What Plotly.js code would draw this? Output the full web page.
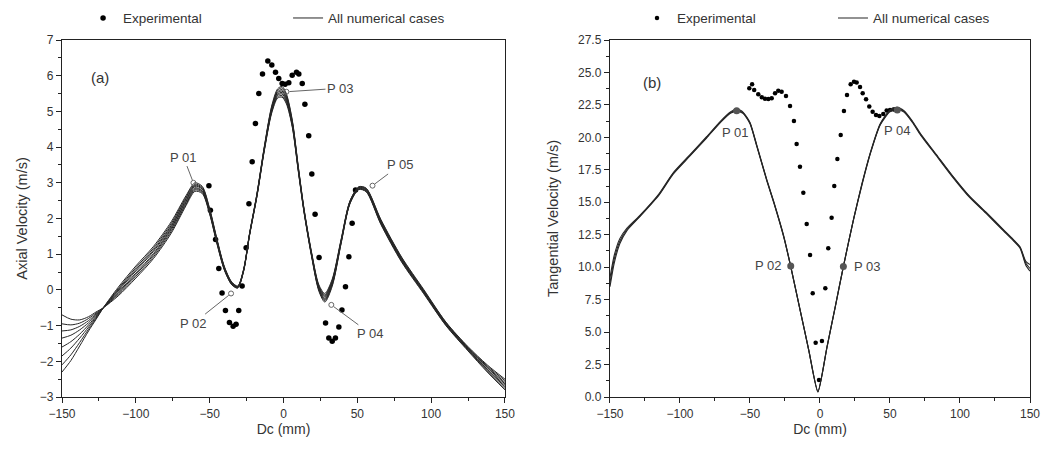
<!DOCTYPE html>
<html>
<head>
<meta charset="utf-8">
<script src="https://cdn.plot.ly/plotly-3.0.1.min.js"></script>
<style>html,body{margin:0;padding:0;background:#fff;}#chart{width:1042px;height:455px;}</style>
</head>
<body>
<div id="chart"></div>
<script>
// ---------- Panel (a): axial velocity ----------
const expA_x = [-50.5,-49.5,-46,-43.8,-41.6,-39.3,-36.6,-34.1,-32.1,-30.3,-28,-25.3,-23.4,-21.2,-19,-16.7,-14.2,-10.6,-7.9,-5.4,-3.2,-0.9,1.1,3.6,5.9,8.8,10.4,12.7,14.5,17.1,19.2,21.4,24.1,28.5,30.7,33,35.2,37.5,39.6,42,44.3,46.5,48.8];
const expA_y = [2.92,2.23,1.41,0.6,-0.09,-0.58,-0.91,-1.02,-0.96,-0.58,0.11,1.18,2.41,3.59,4.66,5.5,6.05,6.41,6.30,6.10,5.92,5.78,5.76,5.8,6.01,6.10,6.05,5.78,5.2,4.32,3.25,2.12,0.91,-0.93,-1.35,-1.44,-1.35,-1.04,-0.56,0.09,0.93,1.87,2.8];

const numA_x = [-150,-144,-138,-132,-127,-122,-112,-100,-88,-76,-66,-60,-55,-50,-45,-40,-35,-31,-27,-23,-18,-13,-8,-4,-1,2,6,10,14,19,24,28,33,39,45,51,56,66,80,95,110,125,138,150];
const numA_case1 = [-0.70,-0.82,-0.84,-0.75,-0.62,-0.50,-0.17,0.33,0.88,1.59,2.36,2.76,2.70,2.12,1.28,0.55,0.14,0.05,0.52,1.52,2.61,3.89,4.95,5.37,5.40,5.21,4.55,3.33,2.15,0.94,-0.04,-0.34,0.10,1.29,2.41,2.81,2.75,1.83,0.78,-0.11,-1.00,-1.71,-2.30,-2.80];
const numA_case2 = [-0.95,-0.98,-0.93,-0.80,-0.65,-0.50,-0.13,0.38,0.93,1.64,2.40,2.80,2.73,2.14,1.30,0.56,0.15,0.06,0.53,1.53,2.62,3.91,4.98,5.41,5.44,5.25,4.58,3.35,2.16,0.96,-0.01,-0.30,0.13,1.31,2.42,2.82,2.76,1.85,0.80,-0.09,-0.99,-1.69,-2.27,-2.76];
const numA_case3 = [-1.15,-1.12,-1.02,-0.86,-0.68,-0.50,-0.10,0.43,0.98,1.69,2.44,2.83,2.76,2.17,1.32,0.58,0.16,0.07,0.54,1.54,2.63,3.93,5.01,5.45,5.49,5.29,4.61,3.37,2.18,0.98,0.01,-0.27,0.16,1.33,2.43,2.83,2.78,1.87,0.82,-0.07,-0.97,-1.67,-2.24,-2.71];
const numA_case4 = [-1.35,-1.27,-1.12,-0.92,-0.71,-0.50,-0.07,0.47,1.02,1.73,2.48,2.86,2.78,2.19,1.34,0.59,0.17,0.08,0.55,1.55,2.64,3.94,5.03,5.48,5.53,5.33,4.63,3.39,2.19,0.99,0.04,-0.24,0.18,1.34,2.44,2.84,2.79,1.89,0.84,-0.06,-0.96,-1.66,-2.22,-2.67];
const numA_case5 = [-1.60,-1.45,-1.24,-0.98,-0.74,-0.50,-0.03,0.53,1.08,1.77,2.52,2.90,2.82,2.21,1.36,0.61,0.19,0.08,0.55,1.55,2.66,3.96,5.07,5.52,5.57,5.37,4.67,3.41,2.21,1.01,0.06,-0.20,0.22,1.36,2.46,2.86,2.81,1.91,0.86,-0.04,-0.94,-1.64,-2.18,-2.63];
const numA_case6 = [-1.85,-1.63,-1.35,-1.04,-0.77,-0.50,0.00,0.57,1.12,1.81,2.56,2.93,2.84,2.23,1.38,0.62,0.20,0.09,0.56,1.56,2.67,3.97,5.09,5.55,5.61,5.41,4.69,3.43,2.22,1.02,0.09,-0.17,0.24,1.37,2.47,2.87,2.82,1.93,0.88,-0.03,-0.93,-1.63,-2.16,-2.59];
const numA_case7 = [-2.10,-1.82,-1.47,-1.10,-0.80,-0.50,0.03,0.62,1.17,1.86,2.60,2.96,2.87,2.26,1.40,0.64,0.21,0.10,0.57,1.57,2.68,3.99,5.12,5.59,5.66,5.45,4.72,3.45,2.24,1.04,0.11,-0.14,0.27,1.39,2.48,2.88,2.84,1.95,0.90,-0.01,-0.91,-1.61,-2.13,-2.54];
const numA_case8 = [-2.30,-1.98,-1.57,-1.15,-0.83,-0.50,0.07,0.67,1.22,1.91,2.64,3.00,2.90,2.28,1.42,0.65,0.22,0.11,0.58,1.58,2.69,4.01,5.15,5.63,5.70,5.49,4.75,3.47,2.25,1.06,0.14,-0.10,0.30,1.41,2.49,2.89,2.85,1.97,0.92,0.01,-0.90,-1.59,-2.10,-2.50];

const pA_label = ['P 01','P 02','P 03','P 04','P 05'];
const pA_x = [-61,-35.5,2,32.4,60.3];
const pA_y = [3.0,-0.1,5.55,-0.42,2.92];

// ---------- Panel (b): tangential velocity ----------
const expB_x = [-50.5,-48.5,-47,-44.1,-41.6,-39.3,-36.9,-34.5,-32.1,-29.8,-27.4,-24.3,-21.4,-18.6,-16.7,-14.3,-11.9,-9.5,-7.1,-5.2,-3.1,-0.7,1.4,3.8,5.9,8.3,10.2,12.4,14.8,17.1,19.3,21.9,24.3,26.2,28.6,30.5,32.9,35.2,37.6,40,42.4,45.2,47.6,50,52.5,55];
const expB_y = [23.78,24.09,23.65,23.32,23.09,22.98,22.96,23.01,23.40,23.60,23.52,23.19,22.42,21.26,19.49,17.74,15.74,13.33,10.94,7.99,4.18,1.31,4.31,8.37,11.45,13.81,16.26,18.34,20.19,22.03,23.27,24.09,24.29,24.22,23.88,23.40,22.93,22.37,21.98,21.73,21.65,21.80,22.06,22.1,22.15,22.1];

const numB_x = [-150,-147,-143,-138,-129,-115,-105,-93,-81,-71,-64,-59.5,-55,-50,-45,-38,-33,-26,-21,-14,-8,-1.5,5,11,16.7,24,30,36,43,50,55,60,66,72,83,95,107,119,131,138,143,147,150];
const numB_case1 = [8.8,10.6,12.0,12.9,13.9,15.6,17.2,18.6,20.0,21.2,21.9,22.1,21.9,21.1,19.3,16.7,15.0,12.4,10.1,6.6,3.6,0.4,3.85,7.0,10.05,13.7,16.4,18.8,21.0,22.05,22.25,22.0,21.2,20.2,18.65,16.95,15.4,14.15,12.85,12.1,11.5,10.3,9.9];
const numB_case2 = [9.2,10.9,12.2,13.0,13.95,15.65,17.25,18.65,20.05,21.25,21.95,22.2,21.95,21.15,19.35,16.75,15.05,12.45,10.12,6.62,3.62,0.45,3.87,7.02,10.07,13.72,16.45,18.85,21.05,22.12,22.32,22.05,21.25,20.25,18.7,17.0,15.45,14.2,12.9,12.15,11.55,10.45,10.2];
const numB_case3 = [8.5,10.3,11.8,12.8,13.85,15.55,17.15,18.55,19.95,21.15,21.85,22.0,21.85,21.05,19.25,16.65,14.95,12.35,10.08,6.58,3.58,0.38,3.83,6.98,10.03,13.68,16.35,18.75,20.95,21.98,22.18,21.95,21.15,20.15,18.6,16.9,15.35,14.1,12.8,12.05,11.45,10.15,9.7];

const pB_label = ['P 01','P 02','P 03','P 04'];
const pB_x = [-59.5,-20.9,16.7,55.2];
const pB_y = [22.05,10.1,10.05,22.1];

// ---------- Build ----------
const FONT = 'Arial, "Liberation Sans", sans-serif';
const TXT = '#333';
const LINE = '#262626';
const traces = [];

const casesA = [numA_case1,numA_case2,numA_case3,numA_case4,numA_case5,numA_case6,numA_case7,numA_case8];
traces.push({x: expA_x, y: expA_y, xaxis:'x', yaxis:'y', mode:'markers', type:'scatter', name:'Experimental',
  marker:{color:'#000', size:5.5}, legend:'legend', showlegend:true});
casesA.forEach((c,i)=>traces.push({x:numA_x, y:c, xaxis:'x', yaxis:'y', mode:'lines', type:'scatter',
  name:'All numerical cases', line:{color:LINE, width:1, shape:'spline', smoothing:0.8},
  legend:'legend', showlegend:i===0}));
traces.push({x:pA_x, y:pA_y, xaxis:'x', yaxis:'y', mode:'markers', type:'scatter', showlegend:false,
  marker:{symbol:'circle-open', size:5, color:'#666', line:{width:1}}});

const casesB = [numB_case1,numB_case2,numB_case3];
traces.push({x: expB_x, y: expB_y, xaxis:'x2', yaxis:'y2', mode:'markers', type:'scatter', name:'Experimental',
  marker:{color:'#000', size:4.5}, legend:'legend2', showlegend:true});
casesB.forEach((c,i)=>traces.push({x:numB_x, y:c, xaxis:'x2', yaxis:'y2', mode:'lines', type:'scatter',
  name:'All numerical cases', line:{color:LINE, width:1.1, shape:'spline', smoothing:0.6},
  legend:'legend2', showlegend:i===0}));
traces.push({x:pB_x, y:pB_y, xaxis:'x2', yaxis:'y2', mode:'markers', type:'scatter', showlegend:false,
  marker:{size:7, color:'#555'}});

const labA = [[-67.7,3.72],[-60.7,-0.93],[38.6,5.65],[59,-1.23],[79,3.5]];
const annotations = [];
pA_label.forEach((t,i)=>annotations.push({xref:'x', yref:'y', axref:'x', ayref:'y', x:pA_x[i], y:pA_y[i],
  ax:labA[i][0], ay:labA[i][1], text:t, showarrow:true, arrowhead:0, arrowwidth:1, arrowcolor:'#666',
  standoff:3, font:{family:FONT, size:13, color:'#444'}}));
const labB = [[-60.7,20.4,'center'],[-25.5,10.1,'right'],[22.6,10.05,'left'],[55.2,20.5,'center']];
pB_label.forEach((t,i)=>annotations.push({xref:'x2', yref:'y2', x:labB[i][0], y:labB[i][1], text:t,
  xanchor:labB[i][2], showarrow:false, font:{family:FONT, size:13, color:'#444'}}));
annotations.push({xref:'x', yref:'y', x:-124, y:5.95, text:'(a)', showarrow:false, font:{family:FONT, size:15, color:TXT}});
annotations.push({xref:'x2', yref:'y2', x:-120, y:24.2, text:'(b)', showarrow:false, font:{family:FONT, size:15, color:TXT}});

function xax(domain, anchor){
  return {domain:domain, anchor:anchor, range:[-150,150], dtick:50, tick0:0, ticks:'outside', ticklen:5, tickwidth:1,
    tickcolor:'#222', minor:{dtick:25, ticks:'outside', ticklen:3, tickcolor:'#222'},
    showline:true, mirror:true, linecolor:'#222', linewidth:1.2, showgrid:false, zeroline:false,
    tickfont:{family:FONT, size:12, color:TXT}, title:{text:'Dc (mm)', font:{family:FONT, size:14, color:TXT}, standoff:0}};
}
const layout = {
  width:1042, height:455, paper_bgcolor:'#fff', plot_bgcolor:'#fff',
  margin:{l:62, r:12, t:40, b:58, autoexpand:false},
  font:{family:FONT, color:TXT},
  xaxis: xax([0, 0.4576], 'y'),
  xaxis2: xax([0.5661, 1], 'y2'),
  yaxis: {domain:[0,1], anchor:'x', range:[-3,7], dtick:1, ticks:'outside', ticklen:5, tickcolor:'#222',
    minor:{dtick:0.5, ticks:'outside', ticklen:3, tickcolor:'#222'},
    showline:true, mirror:true, linecolor:'#222', linewidth:1.2, showgrid:false, zeroline:false,
    tickfont:{family:FONT, size:12, color:TXT}, title:{text:'Axial Velocity (m/s)', font:{family:FONT, size:14.5, color:TXT}, standoff:8}},
  yaxis2: {domain:[0,1], anchor:'x2', range:[0,27.5], dtick:2.5, tickformat:'.1f', ticks:'outside', ticklen:5, tickcolor:'#222',
    minor:{dtick:1.25, ticks:'outside', ticklen:3, tickcolor:'#222'},
    showline:true, mirror:true, linecolor:'#222', linewidth:1.2, showgrid:false, zeroline:false,
    tickfont:{family:FONT, size:12, color:TXT}, title:{text:'Tangential Velocity (m/s)', font:{family:FONT, size:14.5, color:TXT}, standoff:16}},
  legend:{orientation:'h', xref:'container', yref:'container', x:0.0797, y:0.960, xanchor:'left', yanchor:'middle',
    entrywidth:160, entrywidthmode:'pixels',
    font:{family:FONT, size:13.5, color:TXT}, bgcolor:'rgba(0,0,0,0)', traceorder:'normal'},
  legend2:{orientation:'h', xref:'container', yref:'container', x:0.6113, y:0.960, xanchor:'left', yanchor:'middle',
    entrywidth:151, entrywidthmode:'pixels',
    font:{family:FONT, size:13.5, color:TXT}, bgcolor:'rgba(0,0,0,0)', traceorder:'normal'},
  annotations: annotations,
  showlegend:true
};
Plotly.newPlot('chart', traces, layout, {displayModeBar:false, staticPlot:true});
</script>
</body>
</html>
